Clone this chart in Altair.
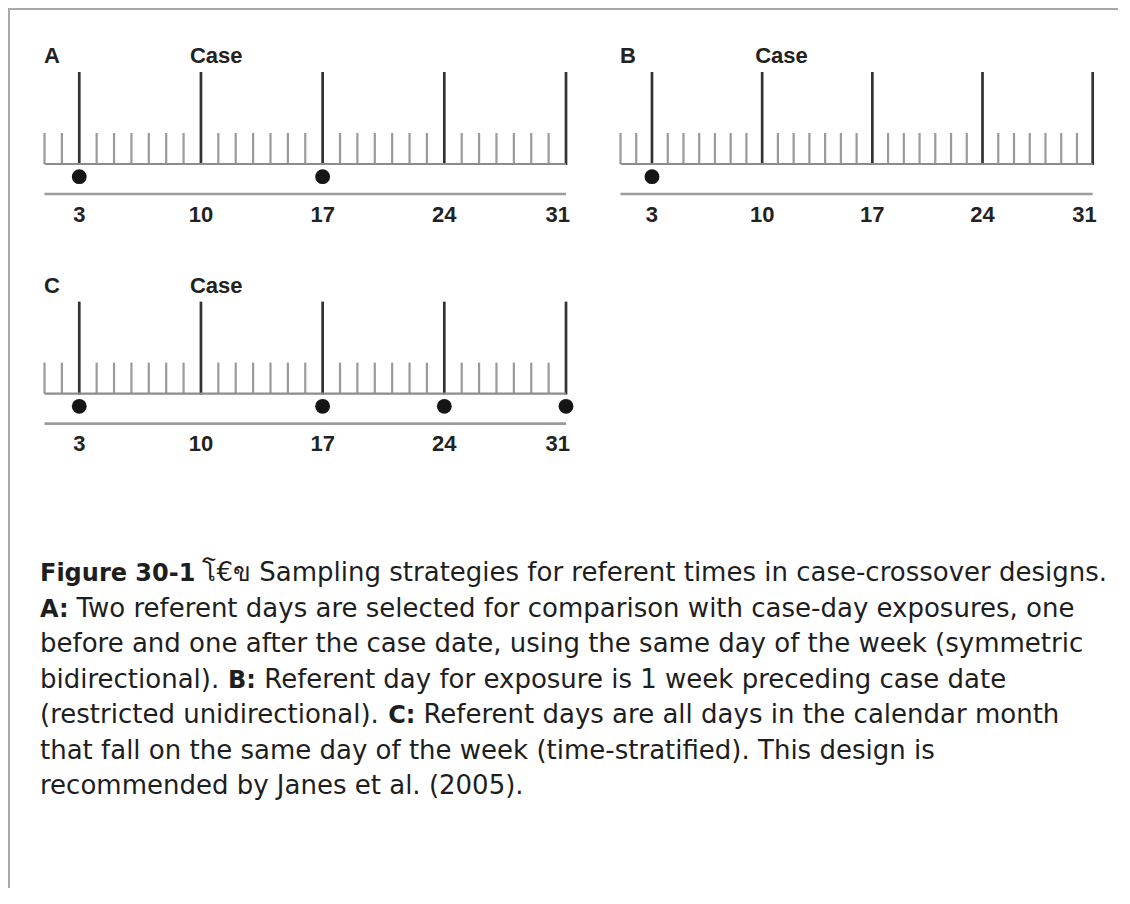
import altair as alt
import pandas as pd

# ---------------- data ----------------
days = list(range(1, 32))
major_days = [3, 10, 17, 24, 31]
label_days = [3, 10, 17, 24, 31]
case_day = 10
referents_A = [3, 17]
referents_B = [3]
referents_C = [3, 17, 24, 31]

caption_segments = [
    [("Figure 30-1", True), ("โ€ข Sampling strategies for referent times in case-crossover designs.", False)],
    [("A:", True), ("Two referent days are selected for comparison with case-day exposures, one", False)],
    [("before and one after the case date, using the same day of the week (symmetric", False)],
    [("bidirectional).", False), ("B:", True), ("Referent day for exposure is 1 week preceding case date", False)],
    [("(restricted unidirectional).", False), ("C:", True), ("Referent days are all days in the calendar month", False)],
    [("that fall on the same day of the week (time-stratified). This design is", False)],
    [("recommended by Janes et al. (2005).", False)],
]

# ---------------- layout / style ----------------
W, H = 1110, 880
ROW1 = dict(letter=55, tall=64, tick=125, base=156, dot=168.7, axis=186, label=213.5)
ROW2_OFF = 229.6
RANGE_AC = [36.5, 558]
RANGE_B = [612.5, 1084.7]
LABEL_FONT = "Liberation Sans"
LABEL_SIZE = 22
CAP_FONT = "DejaVu Sans"
CAP_SIZE = 26
CAP_BOLD_SIZE = 24
CAP_X0 = 32
CAP_Y0, CAP_DY = 573, 35.5

REG = {' ': 651, '(': 799, ')': 799, '.': 651, ',': 651, ':': 690, '-': 739,
       'a': 1255, 'b': 1300, 'c': 1126, 'd': 1300, 'e': 1260, 'f': 721, 'g': 1300,
       'h': 1298, 'i': 569, 'j': 569, 'k': 1186, 'l': 569, 'm': 1995, 'n': 1298,
       'o': 1253, 'p': 1300, 'q': 1300, 'r': 842, 's': 1067, 't': 803, 'u': 1298,
       'v': 1212, 'w': 1675, 'x': 1212, 'y': 1212, 'z': 1075}
BOLD = {' ': 713, ':': 823, 'A': 1585, 'B': 1561, 'C': 1470, 'F': 1296, 'i': 702,
        'g': 1466, 'u': 1458, 'r': 1010, 'e': 1389, '0': 1425, '1': 1425, '3': 1425, '-': 852}


def text_width(s, bold):
    table = BOLD if bold else REG
    size = CAP_BOLD_SIZE if bold else CAP_SIZE
    return sum(table.get(ch, 1300) for ch in s) / 2048 * size


def ruler(name, referents, rng, off, case_dx):
    sc = alt.Scale(domain=[days[0], days[-1]], range=rng)
    r = {k: v + off for k, v in ROW1.items()}
    tdf = pd.DataFrame({"day": days, "major": [d in major_days for d in days]})
    minor = alt.Chart(tdf).transform_filter("!datum.major").mark_rule(
        color="#9a9a9a", strokeWidth=2.2).encode(
        x=alt.X("day:Q", scale=sc, axis=None),
        y=alt.value(r["tick"]), y2=alt.value(r["base"]))
    major = alt.Chart(tdf).transform_filter("datum.major").mark_rule(
        color="#333333", strokeWidth=2.7).encode(
        x=alt.X("day:Q", scale=sc, axis=None),
        y=alt.value(r["tall"]), y2=alt.value(r["base"] + 1))
    span = pd.DataFrame({"start": [days[0]], "end": [days[-1]]})
    base = alt.Chart(span).mark_rule(color="#8c8c8c", strokeWidth=2.2).encode(
        x=alt.X("start:Q", scale=sc, axis=None), x2="end:Q", y=alt.value(r["base"]))
    axisline = alt.Chart(span).mark_rule(color="#9c9c9c", strokeWidth=2.6).encode(
        x=alt.X("start:Q", scale=sc, axis=None), x2="end:Q", y=alt.value(r["axis"]))
    dots = alt.Chart(pd.DataFrame({"day": referents})).mark_circle(
        size=220, color="#151515", opacity=1).encode(
        x=alt.X("day:Q", scale=sc, axis=None), y=alt.value(r["dot"]))
    ldf = pd.DataFrame({"day": label_days, "txt": [str(d) for d in label_days]})
    lab_common = dict(font=LABEL_FONT, fontWeight="bold", fontSize=LABEL_SIZE,
                      color="#222222", baseline="alphabetic")
    labels = alt.Chart(ldf).transform_filter(f"datum.day < {label_days[-1]}").mark_text(
        align="center", **lab_common).encode(
        x=alt.X("day:Q", scale=sc, axis=None), y=alt.value(r["label"]), text="txt:N")
    last = alt.Chart(ldf).transform_filter(f"datum.day == {label_days[-1]}").mark_text(
        align="right", dx=4, **lab_common).encode(
        x=alt.X("day:Q", scale=sc, axis=None), y=alt.value(r["label"]), text="txt:N")
    letter = alt.Chart(pd.DataFrame({"day": [days[0]], "txt": [name]})).mark_text(
        align="left", dx=-0.5, **lab_common).encode(
        x=alt.X("day:Q", scale=sc, axis=None), y=alt.value(r["letter"]), text="txt:N")
    case = alt.Chart(pd.DataFrame({"day": [case_day], "txt": ["Case"]})).mark_text(
        align="left", dx=case_dx, **lab_common).encode(
        x=alt.X("day:Q", scale=sc, axis=None), y=alt.value(r["letter"]), text="txt:N")
    return alt.layer(minor, major, base, axisline, dots, labels, last, letter, case)


panelA = ruler("A", referents_A, RANGE_AC, 0, -11)
panelB = ruler("B", referents_B, RANGE_B, 0, -7)
panelC = ruler("C", referents_C, RANGE_AC, ROW2_OFF, -11)

# caption segments laid out from estimated text widths
rows = []
space_reg = REG[' '] / 2048 * CAP_SIZE
for i, segs in enumerate(caption_segments):
    x = CAP_X0
    for txt, bold in segs:
        rows.append({"line": i, "txt": txt, "bold": bold, "xpos": x})
        x += text_width(txt, bold) + space_reg
cap_df = pd.DataFrame(rows)
n_lines = len(caption_segments)
ysc = alt.Scale(domain=[0, n_lines - 1], range=[CAP_Y0, CAP_Y0 + CAP_DY * (n_lines - 1)])
cap_reg = alt.Chart(cap_df).transform_filter("!datum.bold").mark_text(
    align="left", baseline="alphabetic", font=CAP_FONT, fontSize=CAP_SIZE,
    color="#1e1e1e").encode(
    x=alt.X("xpos:Q", scale=None), y=alt.Y("line:Q", scale=ysc, axis=None), text="txt:N")
cap_bold = alt.Chart(cap_df).transform_filter("datum.bold").mark_text(
    align="left", baseline="alphabetic", font=CAP_FONT, fontSize=CAP_BOLD_SIZE,
    fontWeight="bold", color="#1e1e1e").encode(
    x=alt.X("xpos:Q", scale=None), y=alt.Y("line:Q", scale=ysc, axis=None), text="txt:N")

one = pd.DataFrame({"k": [0]})
frame_top = alt.Chart(one).mark_rule(color="#a8a8a8", strokeWidth=2).encode(
    x=alt.value(0), x2=alt.value(W), y=alt.value(1))
frame_left = alt.Chart(one).mark_rule(color="#a8a8a8", strokeWidth=2).encode(
    x=alt.value(1), y=alt.value(0), y2=alt.value(H))

chart = alt.layer(frame_top, frame_left, panelA, panelB, panelC, cap_reg, cap_bold).resolve_scale(
    x="independent").properties(
    width=W, height=H, padding=0, autosize=alt.AutoSizeParams(type="none"),
    background="white").configure_view(stroke=None)

chart.save("out.html", embed_options={"renderer": "svg", "actions": False})
